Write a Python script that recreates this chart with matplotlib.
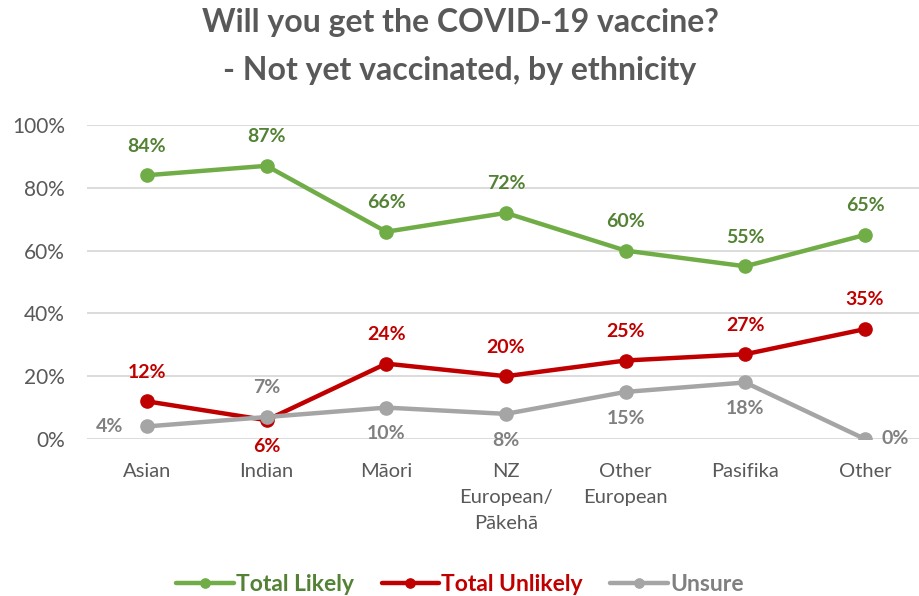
import matplotlib
matplotlib.use("Agg")
import matplotlib.pyplot as plt
from matplotlib.ticker import PercentFormatter

plt.rcParams['font.family'] = ['Lato', 'DejaVu Sans']

categories = ['Asian', 'Indian', 'Māori', 'NZ\nEuropean/\nPākehā', 'Other\nEuropean', 'Pasifika', 'Other']
likely = [84, 87, 66, 72, 60, 55, 65]
unlikely = [12, 6, 24, 20, 25, 27, 35]
unsure = [4, 7, 10, 8, 15, 18, 0]

# where each value label sits relative to its point
likely_pos = ['up'] * 7
unlikely_pos = ['up', 'down', 'up', 'up', 'up', 'up', 'up']
unsure_pos = ['left', 'up', 'down', 'down', 'down', 'down', 'right']

offsets = {'up': (0, 21), 'down': (0, -19), 'left': (-27, 0), 'right': (22, 0)}

series = [
    ('Total Likely', likely, likely_pos, '#70AD47', '#548235'),
    ('Total Unlikely', unlikely, unlikely_pos, '#C00000', '#C00000'),
    ('Unsure', unsure, unsure_pos, '#A5A5A5', '#808080'),
]

fig = plt.figure(figsize=(9.2, 5.96), dpi=100)
ax = fig.add_axes([87 / 920, 157 / 596, 833 / 920, 314 / 596])

x = list(range(len(categories)))
for name, vals, pos, color, text_color in series:
    ax.plot(x, vals, color=color, lw=3.2, marker='o', ms=9.5, label=name,
            solid_capstyle='round', zorder=3)
    for xi, v, p in zip(x, vals, pos):
        ax.annotate(f'{v}%', (xi, v), xytext=offsets[p], textcoords='offset points',
                    ha='center', va='center', color=text_color, fontsize=14,
                    fontweight='bold', zorder=4)

ax.set_xlim(-0.5, 6.46)
ax.set_ylim(0, 100)
ax.set_yticks(range(0, 101, 20))
ax.yaxis.set_major_formatter(PercentFormatter(decimals=0))
ax.set_xticks(x)
ax.set_xticklabels(categories, linespacing=1.65)
ax.tick_params(axis='y', length=0, labelsize=15, labelcolor='#595959', pad=16)
ax.tick_params(axis='x', length=0, labelsize=14.5, labelcolor='#595959', pad=17)
for lbl in ax.get_xticklabels():
    lbl.set_verticalalignment('top')

ax.grid(axis='y', color='#D9D9D9', lw=1.3, zorder=0)
ax.set_axisbelow(True)
for s in ax.spines.values():
    s.set_visible(False)

fig.text(0.5, 0.962, 'Will you get the COVID-19 vaccine?', ha='center', va='center',
         fontsize=23, fontweight='bold', color='#595959')
fig.text(0.5, 0.882, '- Not yet vaccinated, by ethnicity', ha='center', va='center',
         fontsize=23, fontweight='bold', color='#595959')

leg = fig.legend(loc='center', bbox_to_anchor=(0.5, 0.02), ncol=3, frameon=False,
                 fontsize=16.5, handlelength=2.5, handletextpad=0.1, columnspacing=1.2,
                 markerscale=0.7)
for text, (_, _, _, _, tc) in zip(leg.get_texts(), series):
    text.set_color(tc)
    text.set_fontweight('bold')

fig.savefig('out.png', dpi=100)
